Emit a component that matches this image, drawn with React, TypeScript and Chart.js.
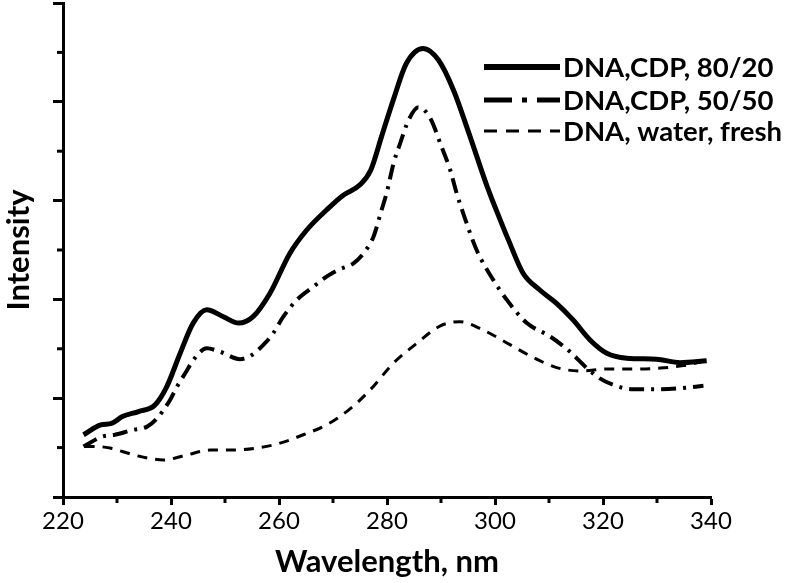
import React, { useEffect, useRef } from "react";
import { Chart, registerables } from "chart.js";
Chart.register(...registerables);

// ---- data ----
const seriesLabels = ["DNA,CDP, 80/20", "DNA,CDP, 50/50", "DNA, water, fresh"];

const nmA = [223.8, 227, 229, 231, 234, 237, 239.2, 241.7, 244.1, 246.6, 249.7, 252.5, 255.2, 258.3, 262, 265.1, 268.8, 271.9, 275, 277, 279, 281.2, 283.6, 286.7, 289.5, 292.3, 295.4, 298.5, 301, 302.5, 305.2, 308.3, 311.4, 314.5, 317.6, 320.7, 324.4, 329.9, 334.3, 339.2];
const intA = [1.26, 1.46, 1.49, 1.63, 1.73, 1.86, 2.23, 2.91, 3.52, 3.79, 3.65, 3.52, 3.65, 4.12, 4.93, 5.40, 5.81, 6.11, 6.32, 6.62, 7.3, 8.05, 8.78, 9.08, 8.85, 8.24, 7.29, 6.3, 5.6, 5.2, 4.53, 4.19, 3.92, 3.58, 3.18, 2.91, 2.81, 2.79, 2.72, 2.76];

const nmB = [223.8, 227.2, 229.6, 233, 235.5, 237.4, 239.8, 241.1, 242.6, 244.4, 246.6, 249.1, 252.8, 254.9, 257.1, 258.9, 260.8, 263.3, 266.4, 268.8, 271, 273.8, 275.9, 277.5, 279, 280, 281.2, 282.4, 284, 285.8, 288, 290.1, 291.7, 292.9, 294.4, 296.6, 299.7, 302.2, 305.9, 310.2, 313.9, 317, 319.4, 321.9, 325.6, 330, 334.3, 338.6];
const intB = [1.02, 1.22, 1.26, 1.36, 1.42, 1.59, 1.96, 2.23, 2.50, 2.81, 3.01, 2.94, 2.79, 2.87, 3.08, 3.31, 3.65, 3.99, 4.26, 4.46, 4.60, 4.73, 4.97, 5.27, 5.81, 6.18, 6.75, 7.15, 7.63, 7.89, 7.67, 7.09, 6.62, 6.15, 5.65, 5.00, 4.39, 3.99, 3.52, 3.25, 2.94, 2.61, 2.40, 2.27, 2.18, 2.18, 2.20, 2.25];

const nmC = [224, 226.5, 228.7, 231, 234.3, 238.6, 242.9, 247.2, 251.5, 255.9, 260.2, 264.5, 268.8, 273.1, 276.9, 281.2, 285.5, 289.8, 293.5, 297.8, 302.5, 306.8, 311.4, 315.9, 320.7, 325.6, 330.6, 334.9, 339.2];
const intC = [1.02, 1.02, 0.99, 0.92, 0.82, 0.75, 0.85, 0.95, 0.95, 0.99, 1.09, 1.26, 1.46, 1.78, 2.17, 2.71, 3.11, 3.46, 3.55, 3.38, 3.10, 2.84, 2.62, 2.55, 2.59, 2.59, 2.61, 2.66, 2.76];

const xMajorTicks = [220, 240, 260, 280, 300, 320, 340];
const xMinorTicks = [230, 250, 270, 290, 310, 330];
const yMajorTicks = [0, 2, 4, 6, 8, 10];
const yMinorTicks = [1, 3, 5, 7, 9];

const FONT = "Lato, 'Open Sans', 'Liberation Sans', sans-serif";

const toPoints = (xs: number[], ys: number[]) => xs.map((x, i) => ({ x, y: ys[i] }));

const extrasPlugin = {
  id: "extras",
  afterDraw(chart: any) {
    const { ctx, chartArea, scales } = chart;
    ctx.save();
    ctx.strokeStyle = "#000";
    ctx.lineWidth = 3;
    ctx.setLineDash([]);
    // minor ticks
    yMinorTicks.forEach((v) => {
      const py = scales.y.getPixelForValue(v);
      ctx.beginPath();
      ctx.moveTo(chartArea.left - 6, py);
      ctx.lineTo(chartArea.left, py);
      ctx.stroke();
    });
    xMinorTicks.forEach((v) => {
      const px = scales.x.getPixelForValue(v);
      ctx.beginPath();
      ctx.moveTo(px, chartArea.bottom);
      ctx.lineTo(px, chartArea.bottom + 6);
      ctx.stroke();
    });
    // legend
    const rows = [67, 100, 131];
    const legendDash = [[], [28, 10, 5, 10], [13, 9]];
    chart.data.datasets.forEach((ds: any, i: number) => {
      const y = rows[i];
      ctx.beginPath();
      ctx.lineWidth = ds.borderWidth + (i === 2 ? 0 : 1);
      ctx.setLineDash(legendDash[i]);
      ctx.strokeStyle = ds.borderColor;
      ctx.moveTo(484, y);
      ctx.lineTo(560, y);
      ctx.stroke();
      ctx.setLineDash([]);
      ctx.fillStyle = "#000";
      ctx.font = `bold 27.5px ${FONT}`;
      ctx.textBaseline = "middle";
      ctx.textAlign = "left";
      ctx.fillText(ds.label, 563, y + 1);
    });
    ctx.restore();
  },
};

export default function App() {
  const ref = useRef<HTMLCanvasElement>(null);
  useEffect(() => {
    document.body.style.margin = "0";
    const chart = new Chart(ref.current!, {
      type: "line",
      data: {
        datasets: [
          {
            label: seriesLabels[0],
            data: toPoints(nmA, intA),
            borderColor: "#000",
            borderWidth: 5,
            pointRadius: 0,
            tension: 0.4,
            cubicInterpolationMode: "monotone",
            fill: false,
          },
          {
            label: seriesLabels[1],
            data: toPoints(nmB, intB),
            borderColor: "#000",
            borderWidth: 4,
            borderDash: [15, 7, 3, 7],
            pointRadius: 0,
            tension: 0.4,
            cubicInterpolationMode: "monotone",
            fill: false,
          },
          {
            label: seriesLabels[2],
            data: toPoints(nmC, intC),
            borderColor: "#000",
            borderWidth: 3,
            borderDash: [10, 8],
            pointRadius: 0,
            tension: 0.4,
            cubicInterpolationMode: "monotone",
            fill: false,
          },
        ],
      },
      options: {
        responsive: false,
        animation: false,
        devicePixelRatio: 1,
        layout: { padding: { top: 3, right: 77, left: 0, bottom: 0 } },
        plugins: { legend: { display: false }, tooltip: { enabled: false } },
        scales: {
          x: {
            type: "linear",
            min: 220,
            max: 340,
            afterFit: (s: any) => {
              s.height = 86;
            },
            afterBuildTicks: (s: any) => {
              s.ticks = xMajorTicks.map((v) => ({ value: v }));
            },
            ticks: {
              color: "#000",
              font: { family: FONT, size: 24 },
              padding: 2,
              maxRotation: 0,
              autoSkip: false,
            },
            grid: {
              display: true,
              drawOnChartArea: false,
              drawTicks: true,
              tickLength: 8,
              tickWidth: 3,
              tickColor: "#000",
            },
            border: { display: true, color: "#000", width: 3 },
            title: {
              display: true,
              text: "Wavelength, nm",
              color: "#000",
              font: { family: FONT, size: 31, weight: "bold" },
              padding: { top: 0, bottom: 2 },
            },
          },
          y: {
            type: "linear",
            min: 0,
            max: 10,
            afterFit: (s: any) => {
              s.width = 63;
            },
            afterBuildTicks: (s: any) => {
              s.ticks = yMajorTicks.map((v) => ({ value: v }));
            },
            ticks: { display: false },
            grid: {
              display: true,
              drawOnChartArea: false,
              drawTicks: true,
              tickLength: 10,
              tickWidth: 3,
              tickColor: "#000",
            },
            border: { display: true, color: "#000", width: 3 },
            title: {
              display: true,
              text: "Intensity",
              color: "#000",
              font: { family: FONT, size: 31, weight: "bold" },
              padding: { top: 0, bottom: 0 },
            },
          },
        },
      } as any,
      plugins: [extrasPlugin],
    });
    return () => chart.destroy();
  }, []);
  return (
    <div style={{ width: 788, height: 583 }}>
      <canvas ref={ref} width={788} height={583} />
    </div>
  );
}
